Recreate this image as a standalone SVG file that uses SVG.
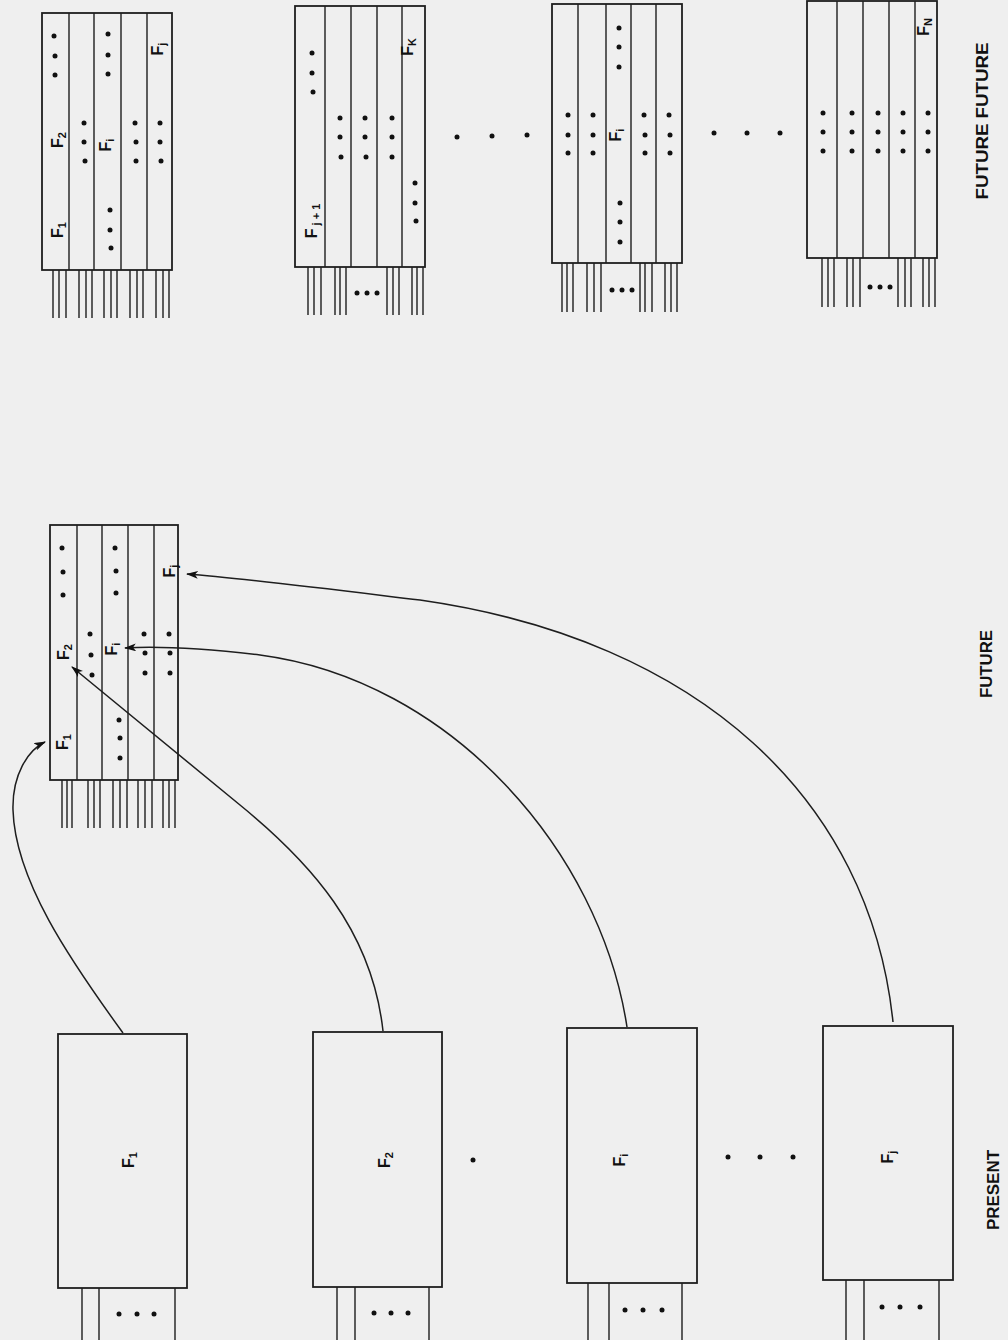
<svg xmlns="http://www.w3.org/2000/svg" width="1008" height="1340" viewBox="0 0 1008 1340">
<defs>
<style>
.bx{fill:none;stroke:#1e1e1e;stroke-width:1.8}
.ln{stroke:#1e1e1e;stroke-width:1.4;fill:none}
.dt{fill:#111}
.lb{font-family:"Liberation Sans",Arial,sans-serif;font-size:16px;font-weight:bold;fill:#111;text-anchor:middle}
.sb{font-size:11px}
.hd{font-family:"Liberation Sans",Arial,sans-serif;font-size:16px;font-weight:bold;fill:#111;text-anchor:middle}
.cn{fill:none;stroke:#1e1e1e;stroke-width:1.5}
</style>
<marker id="ah" viewBox="0 0 12 8" refX="11" refY="4" markerWidth="12" markerHeight="8" markerUnits="userSpaceOnUse" orient="auto">
<path d="M0,0 L12,4 L0,8 L3,4 Z" fill="#111"/>
</marker>
</defs>
<rect x="0" y="0" width="1008" height="1340" fill="#efefef"/>

<g id="ff1">
<rect class="bx" x="42" y="13" width="130" height="257"/>
<path class="ln" d="M69,13V270M94,13V270M121,13V270M147,13V270"/>
<path class="ln" d="M53,270V318M59,270V318M66,270V318M79,270V318M86,270V318M92,270V318M104,270V318M111,270V318M117,270V318M130,270V318M137,270V318M143,270V318M156,270V318M163,270V318M169,270V318"/>
<g class="dt">
<circle cx="54" cy="36" r="2.5"/><circle cx="55" cy="56" r="2.5"/><circle cx="55" cy="75" r="2.5"/>
<circle cx="84" cy="123" r="2.5"/><circle cx="84" cy="142" r="2.5"/><circle cx="85" cy="161" r="2.5"/>
<circle cx="108" cy="34" r="2.5"/><circle cx="108" cy="55" r="2.5"/><circle cx="108" cy="74" r="2.5"/>
<circle cx="110" cy="210" r="2.5"/><circle cx="110" cy="230" r="2.5"/><circle cx="111" cy="248" r="2.5"/>
<circle cx="135" cy="123" r="2.5"/><circle cx="136" cy="142" r="2.5"/><circle cx="136" cy="161" r="2.5"/>
<circle cx="160" cy="123" r="2.5"/><circle cx="160" cy="142" r="2.5"/><circle cx="161" cy="161" r="2.5"/>
</g>
<text class="lb" transform="translate(58,230) rotate(-90)" y="5">F<tspan class="sb" dy="3">1</tspan></text>
<text class="lb" transform="translate(58,140) rotate(-90)" y="5">F<tspan class="sb" dy="3">2</tspan></text>
<text class="lb" transform="translate(106,145) rotate(-90)" y="5">F<tspan class="sb" dy="3">i</tspan></text>
<text class="lb" transform="translate(158,49) rotate(-90)" y="5">F<tspan class="sb" dy="3">j</tspan></text>
</g>

<g id="ff2">
<rect class="bx" x="295" y="6" width="130" height="261"/>
<path class="ln" d="M325,6V267M351,6V267M377,6V267M402,6V267"/>
<path class="ln" d="M308,267V315M314,267V315M321,267V315M335,267V315M340,267V315M346,267V315M387,267V315M393,267V315M399,267V315M412,267V315M417,267V315M423,267V315"/>
<g class="dt">
<circle cx="357" cy="293" r="2.5"/><circle cx="367" cy="293" r="2.5"/><circle cx="377" cy="293" r="2.5"/>
<circle cx="312" cy="53" r="2.5"/><circle cx="312" cy="73" r="2.5"/><circle cx="313" cy="92" r="2.5"/>
<circle cx="340" cy="118" r="2.5"/><circle cx="340" cy="137" r="2.5"/><circle cx="341" cy="157" r="2.5"/>
<circle cx="365" cy="118" r="2.5"/><circle cx="365" cy="137" r="2.5"/><circle cx="366" cy="157" r="2.5"/>
<circle cx="392" cy="118" r="2.5"/><circle cx="392" cy="137" r="2.5"/><circle cx="392" cy="157" r="2.5"/>
<circle cx="415" cy="183" r="2.5"/><circle cx="415" cy="203" r="2.5"/><circle cx="416" cy="221" r="2.5"/>
</g>
<text class="lb" transform="translate(312,221) rotate(-90)" y="5">F<tspan class="sb" dy="3"> j + 1</tspan></text>
<text class="lb" transform="translate(408,47) rotate(-90)" y="5">F<tspan class="sb" dy="3">K</tspan></text>
</g>

<g id="gap1" class="dt">
<circle cx="457" cy="137" r="2.5"/><circle cx="492" cy="136" r="2.5"/><circle cx="527" cy="135" r="2.5"/>
</g>

<g id="ff3">
<rect class="bx" x="552" y="4" width="130" height="259"/>
<path class="ln" d="M578,4V263M606,4V263M631,4V263M656,4V263"/>
<path class="ln" d="M562,263V312M567,263V312M573,263V312M587,263V312M594,263V312M601,263V312M640,263V312M645,263V312M652,263V312M665,263V312M671,263V312M677,263V312"/>
<g class="dt">
<circle cx="612" cy="290" r="2.5"/><circle cx="622" cy="290" r="2.5"/><circle cx="632" cy="290" r="2.5"/>
<circle cx="568" cy="115" r="2.5"/><circle cx="568" cy="135" r="2.5"/><circle cx="568" cy="153" r="2.5"/>
<circle cx="593" cy="115" r="2.5"/><circle cx="593" cy="135" r="2.5"/><circle cx="593" cy="153" r="2.5"/>
<circle cx="619" cy="28" r="2.5"/><circle cx="619" cy="47" r="2.5"/><circle cx="619" cy="67" r="2.5"/>
<circle cx="620" cy="203" r="2.5"/><circle cx="620" cy="222" r="2.5"/><circle cx="620" cy="242" r="2.5"/>
<circle cx="644" cy="115" r="2.5"/><circle cx="645" cy="135" r="2.5"/><circle cx="645" cy="153" r="2.5"/>
<circle cx="669" cy="115" r="2.5"/><circle cx="670" cy="135" r="2.5"/><circle cx="670" cy="153" r="2.5"/>
</g>
<text class="lb" transform="translate(616,135) rotate(-90)" y="5">F<tspan class="sb" dy="3">i</tspan></text>
</g>

<g id="gap2" class="dt">
<circle cx="714" cy="133" r="2.5"/><circle cx="747" cy="133" r="2.5"/><circle cx="780" cy="133" r="2.5"/>
</g>

<g id="ff4">
<rect class="bx" x="807" y="1" width="130" height="257"/>
<path class="ln" d="M837,1V258M863,1V258M889,1V258M915,1V258"/>
<path class="ln" d="M822,258V307M828,258V307M834,258V307M847,258V307M853,258V307M860,258V307M898,258V307M905,258V307M911,258V307M923,258V307M929,258V307M935,258V307"/>
<g class="dt">
<circle cx="870" cy="287" r="2.5"/><circle cx="880" cy="287" r="2.5"/><circle cx="890" cy="287" r="2.5"/>
<circle cx="823" cy="113" r="2.5"/><circle cx="823" cy="132" r="2.5"/><circle cx="823" cy="151" r="2.5"/>
<circle cx="852" cy="113" r="2.5"/><circle cx="852" cy="132" r="2.5"/><circle cx="852" cy="151" r="2.5"/>
<circle cx="878" cy="113" r="2.5"/><circle cx="878" cy="132" r="2.5"/><circle cx="878" cy="151" r="2.5"/>
<circle cx="903" cy="113" r="2.5"/><circle cx="903" cy="132" r="2.5"/><circle cx="903" cy="151" r="2.5"/>
<circle cx="928" cy="113" r="2.5"/><circle cx="928" cy="132" r="2.5"/><circle cx="928" cy="151" r="2.5"/>
</g>
<text class="lb" transform="translate(924,27) rotate(-90)" y="5">F<tspan class="sb" dy="3">N</tspan></text>
</g>

<g id="fut">
<rect class="bx" x="50" y="525" width="128" height="255"/>
<path class="ln" d="M77,525V780M102,525V780M128,525V780M154,525V780"/>
<path class="ln" d="M62,780V828M67,780V828M72,780V828M88,780V828M94,780V828M100,780V828M113,780V828M120,780V828M127,780V828M138,780V828M145,780V828M152,780V828M163,780V828M169,780V828M175,780V828"/>
<g class="dt">
<circle cx="62" cy="548" r="2.5"/><circle cx="63" cy="572" r="2.5"/><circle cx="63" cy="595" r="2.5"/>
<circle cx="90" cy="634" r="2.5"/><circle cx="91" cy="655" r="2.5"/><circle cx="92" cy="675" r="2.5"/>
<circle cx="115" cy="548" r="2.5"/><circle cx="116" cy="571" r="2.5"/><circle cx="116" cy="593" r="2.5"/>
<circle cx="119" cy="720" r="2.5"/><circle cx="120" cy="738" r="2.5"/><circle cx="120" cy="758" r="2.5"/>
<circle cx="144" cy="634" r="2.5"/><circle cx="145" cy="653" r="2.5"/><circle cx="145" cy="673" r="2.5"/>
<circle cx="169" cy="634" r="2.5"/><circle cx="170" cy="653" r="2.5"/><circle cx="170" cy="673" r="2.5"/>
</g>
<text class="lb" transform="translate(63,742) rotate(-90)" y="5">F<tspan class="sb" dy="3">1</tspan></text>
<text class="lb" transform="translate(64,652) rotate(-90)" y="5">F<tspan class="sb" dy="3">2</tspan></text>
<text class="lb" transform="translate(112,649) rotate(-90)" y="5">F<tspan class="sb" dy="3">i</tspan></text>
<text class="lb" transform="translate(170,571) rotate(-90)" y="5">F<tspan class="sb" dy="3">j</tspan></text>
</g>

<g id="p1">
<rect class="bx" x="58" y="1034" width="129" height="254"/>
<path class="ln" d="M82,1288V1340M99,1288V1340M175,1288V1340"/>
<g class="dt"><circle cx="119" cy="1314" r="2.5"/><circle cx="137" cy="1314" r="2.5"/><circle cx="154" cy="1314" r="2.5"/></g>
<text class="lb" transform="translate(129,1160) rotate(-90)" y="5">F<tspan class="sb" dy="3">1</tspan></text>
</g>

<g id="p2">
<rect class="bx" x="313" y="1032" width="129" height="255"/>
<path class="ln" d="M337,1287V1340M355,1287V1340M429,1287V1340"/>
<g class="dt"><circle cx="374" cy="1313" r="2.5"/><circle cx="391" cy="1313" r="2.5"/><circle cx="408" cy="1313" r="2.5"/></g>
<text class="lb" transform="translate(385,1160) rotate(-90)" y="5">F<tspan class="sb" dy="3">2</tspan></text>
</g>

<g id="gap3" class="dt">
<circle cx="473" cy="1160" r="2.5"/>
</g>

<g id="p3">
<rect class="bx" x="567" y="1028" width="130" height="255"/>
<path class="ln" d="M588,1283V1340M609,1283V1340M682,1283V1340"/>
<g class="dt"><circle cx="625" cy="1310" r="2.5"/><circle cx="643" cy="1310" r="2.5"/><circle cx="662" cy="1310" r="2.5"/></g>
<text class="lb" transform="translate(620,1160) rotate(-90)" y="5">F<tspan class="sb" dy="3">i</tspan></text>
</g>

<g id="gap4" class="dt">
<circle cx="728" cy="1157" r="2.5"/><circle cx="760" cy="1157" r="2.5"/><circle cx="793" cy="1157" r="2.5"/>
</g>

<g id="p4">
<rect class="bx" x="823" y="1026" width="130" height="254"/>
<path class="ln" d="M846,1280V1340M864,1280V1340M939,1280V1340"/>
<g class="dt"><circle cx="882" cy="1307" r="2.5"/><circle cx="900" cy="1307" r="2.5"/><circle cx="920" cy="1307" r="2.5"/></g>
<text class="lb" transform="translate(888,1157) rotate(-90)" y="5">F<tspan class="sb" dy="3">j</tspan></text>
</g>

<g id="connectors">
<path class="cn" marker-end="url(#ah)" d="M123,1033 C70,960 15,880 13,810 C12,775 28,750 45,742"/>
<path class="cn" marker-end="url(#ah)" d="M383,1031 C372,930 310,862 240,805 L72,667"/>
<path class="cn" marker-end="url(#ah)" d="M627,1027 C600,850 450,680 260,655 C200,648 160,646 125,648"/>
<path class="cn" marker-end="url(#ah)" d="M893,1022 C870,800 700,640 420,600 C320,588 240,578 187,574"/>
</g>

<g id="headings">
<text class="hd" transform="translate(982,121) rotate(-90)" y="6" textLength="157" lengthAdjust="spacingAndGlyphs">FUTURE FUTURE</text>
<text class="hd" transform="translate(986,664) rotate(-90)" y="6" textLength="68" lengthAdjust="spacingAndGlyphs">FUTURE</text>
<text class="hd" transform="translate(993,1190) rotate(-90)" y="6" textLength="80" lengthAdjust="spacingAndGlyphs">PRESENT</text>
</g>
</svg>
